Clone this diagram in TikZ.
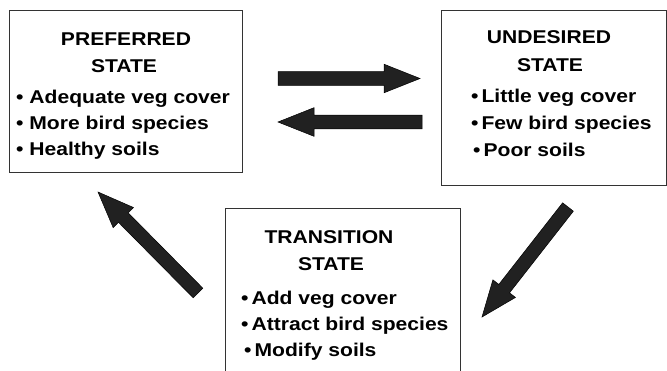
\documentclass[tikz,border=0pt]{standalone}
\usepackage{fontspec}
\setmainfont{Liberation Sans}[FakeStretch=1.14]
\usetikzlibrary{calc}

\tikzset{
  statebox/.style={draw=black!80, line width=1.2pt, inner sep=0pt, anchor=north west},
  statetitle/.style={font=\fontsize{18.5}{22}\selectfont\bfseries, anchor=base, inner sep=0pt},
  stateitem/.style={font=\fontsize{18.5}{22}\selectfont\bfseries, anchor=base west, inner sep=0pt},
  arrowfill/.style={fill=black!87, draw=black, line width=0.5pt, line join=miter}
}

% fat block arrow from #2 to #3
\newcommand\blockarrow[3][]{%
  \coordinate (ba-h) at ($(#3)!36pt!(#2)$);
  \filldraw[arrowfill,#1] ($(#2)!6.8pt!90:(#3)$) -- ($(ba-h)!6.8pt!-90:(#2)$)
    -- ($(ba-h)!14.3pt!-90:(#2)$) -- (#3) -- ($(ba-h)!14.3pt!90:(#2)$)
    -- ($(ba-h)!6.8pt!90:(#2)$) -- ($(#2)!6.8pt!-90:(#3)$) -- cycle;}

\begin{document}
\begin{tikzpicture}[x=1pt, y=-1pt]
  \clip (0,0) rectangle (667,370);
  \fill[white] (0,0) rectangle (667,370);

  % State boxes
  \node[statebox, minimum width=233pt, minimum height=162pt] (pref) at (9,10) {};
  \node[statebox, minimum width=225pt, minimum height=175pt] (und) at (441,10) {};
  \node[statebox, minimum width=235pt, minimum height=200pt] (trans) at (225,208) {};

  % Preferred state
  \node[statetitle] (pref-t1) at (126,45) {PREFERRED};
  \node[statetitle] (pref-t2) at (124,72) {STATE};
  \foreach \txt [count=\i] in {Adequate veg cover, More bird species, Healthy soils}
    \node[stateitem] (pref-\i) at (16,77+26*\i) {\textbullet\ \txt};

  % Undesired state
  \node[statetitle] (und-t1) at (549,43) {UNDESIRED};
  \node[statetitle] (und-t2) at (550,71) {STATE};
  \node[stateitem] (und-1) at (471,102) {\textbullet\hspace{3pt}Little veg cover};
  \node[stateitem] (und-2) at (471,129) {\textbullet\hspace{3pt}Few bird species};
  \node[stateitem] (und-3) at (473,156) {\textbullet\hspace{3pt}Poor soils};

  % Transition state
  \node[statetitle] (trans-t1) at (329,243) {TRANSITION};
  \node[statetitle] (trans-t2) at (331,270) {STATE};
  \node[stateitem] (trans-1) at (241,304) {\textbullet\hspace{3pt}Add veg cover};
  \node[stateitem] (trans-2) at (241,330) {\textbullet\hspace{3pt}Attract bird species};
  \node[stateitem] (trans-3) at (244,356) {\textbullet\hspace{3pt}Modify soils};

  % Arrow ends
  \coordinate (p2u-s) at (278,78.5);
  \coordinate (p2u-e) at (420,78.5);
  \coordinate (u2p-s) at (422,122);
  \coordinate (u2p-e) at (278,122);
  \coordinate (u2t-s) at (568,207);
  \coordinate (u2t-e) at (482,317);
  \coordinate (t2p-s) at (198,293);
  \coordinate (t2p-e) at (98,192);

  \blockarrow{p2u-s}{p2u-e}
  \blockarrow{u2p-s}{u2p-e}
  \blockarrow{u2t-s}{u2t-e}
  \blockarrow{t2p-s}{t2p-e}
\end{tikzpicture}
\end{document}
